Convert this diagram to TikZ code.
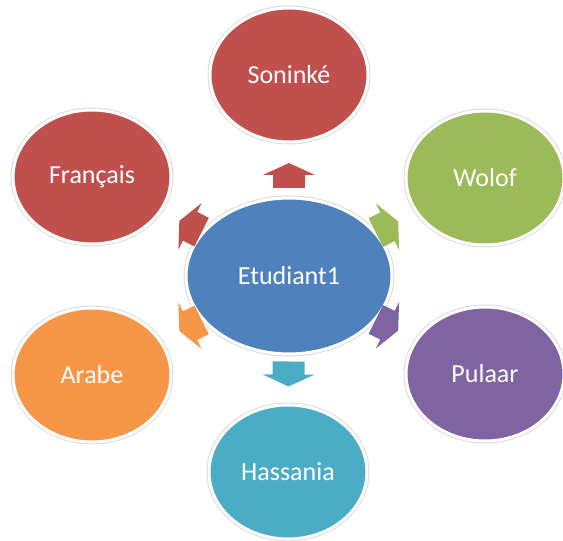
\documentclass[tikz,border=0pt]{standalone}
\usepackage{fontspec}
\setmainfont{Carlito}
\usetikzlibrary{shapes.geometric,calc}
\definecolor{cred}{HTML}{C0504D}
\definecolor{cgreen}{HTML}{9BBB59}
\definecolor{cpurple}{HTML}{8064A2}
\definecolor{caqua}{HTML}{4BACC6}
\definecolor{corange}{HTML}{F79646}
\definecolor{cblue}{HTML}{4F81BD}
\tikzset{
  bubble/.style={ellipse, minimum width=158pt, minimum height=134pt, inner sep=0pt,
    text=white, font=\fontsize{26}{30}\selectfont,
    draw=white, line width=3pt, preaction={draw=black!14, line width=5pt}},
  hub/.style={bubble, minimum width=206pt, minimum height=156pt},
  pics/blockarrow/.style={code={
    \fill[pic actions] (-12.5,-16) -- (0.5,-16) -- (0.5,-26) -- (12.5,0) -- (0.5,26) -- (0.5,16) -- (-12.5,16) -- cycle;
  }}
}
\begin{document}
\begin{tikzpicture}[x=1pt,y=1pt]
\useasboundingbox (0,0) rectangle (563,541);
\node[hub, fill=cblue] (c) at (289,265) {Etudiant1};
\node[bubble, fill=cred] (son) at (289,466) {Soninké};
\node[bubble, fill=cred] (fr) at (92,364) {Français};
\node[bubble, fill=cgreen] (wo) at (485,363) {Wolof};
\node[bubble, fill=corange] (ar) at (92,166) {Arabe};
\node[bubble, fill=cpurple] (pu) at (485,167) {Pulaar};
\node[bubble, fill=caqua] (ha) at (288,69) {Hassania};
\foreach \t/\col in {son/cred, fr/cred, wo/cgreen, ar/corange, pu/cpurple, ha/caqua}{
  \path let \p1 = ($(\t)-(c)$), \n1 = {atan2(\y1,\x1)} in
    ($(c)!0.5!(\t)$) pic[rotate=\n1, fill=\col] {blockarrow};
}
\end{tikzpicture}
\end{document}
